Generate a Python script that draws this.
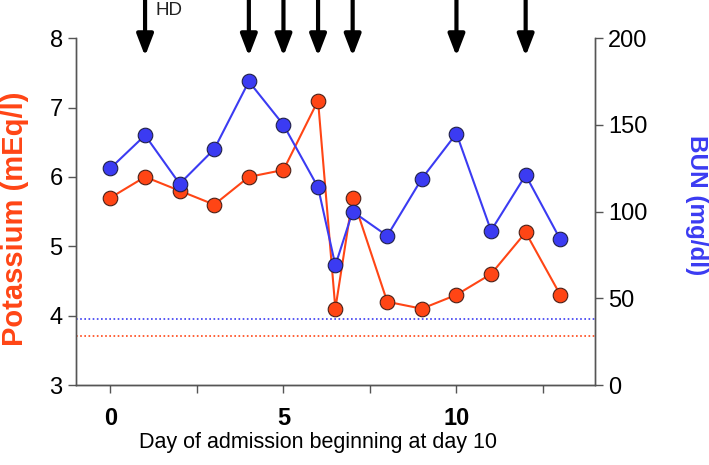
import numpy as np, matplotlib.pyplot as plt

plt.rcParams['font.family'] = ['Liberation Sans', 'DejaVu Sans']

days = [0, 1, 2, 3, 4, 5, 6, 6.5, 7, 8, 9, 10, 11, 12, 13]
potassium = [5.7, 6.0, 5.8, 5.6, 6.0, 6.1, 7.1, 4.1, 5.7, 4.2, 4.1, 4.3, 4.6, 5.2, 4.3]
bun = [125, 144, 116, 136, 175, 150, 114, 69, 100, 86, 119, 145, 89, 121, 84]
hd_days = [1, 4, 5, 6, 7, 10, 12]
k_ref = 3.7   # reference lines
bun_ref = 38

red = '#FF4515'
blue = '#3B3BF2'
gray = '#555555'

fig = plt.figure(figsize=(7.09, 4.65), dpi=100)
ax = fig.add_axes([0.107, 0.172, 0.732, 0.746])
ax2 = ax.twinx()

ax.plot(days, potassium, color=red, lw=1.5, marker='o', ms=10.5,
        mfc=red, mec='#4a2018', mew=0.8, zorder=3)
ax.axhline(k_ref, color=red, ls=(0, (1, 1.5)), lw=1.2)
ax2.plot(days, bun, color=blue, lw=1.5, marker='o', ms=10.5,
         mfc=blue, mec='#202048', mew=0.8, zorder=3)
ax2.axhline(bun_ref, color=blue, ls=(0, (1, 1.5)), lw=1.2)

ax.set_xlim(-1, 14)
ax.set_ylim(3, 8)
ax2.set_ylim(0, 200)
ax.set_xticks([0, 5, 10])
ax.set_xticks([2.5, 7.5, 12.5], minor=True)
ax.set_yticks(range(3, 9))
ax2.set_yticks(range(0, 201, 50))

for a in (ax, ax2):
    a.spines['top'].set_visible(False)
    for s in a.spines.values():
        s.set_color(gray)
        s.set_linewidth(1.0)
    a.tick_params(colors=gray, labelcolor='black', length=6, width=1.0,
                  labelsize=17, which='both')
ax.spines['bottom'].set_color('#333333')
for lbl in ax.get_xticklabels():
    lbl.set_fontweight('bold')
ax.tick_params(axis='x', pad=10)

ax.set_xlabel('Day of admission beginning at day 10', fontsize=15.5)
ax.xaxis.set_label_coords(0.466, -0.135)
ax.set_ylabel('Potassium (mEq/l)', color=red, fontsize=21, fontweight='bold',
              va='center')
ax.yaxis.set_label_coords(-0.118, 0.48)
ax2.set_ylabel('BUN (mg/dl)', color=blue, fontsize=17.5, fontweight='bold',
               rotation=-90, va='center')
ax2.yaxis.set_label_coords(1.195, 0.52)

# HD arrows above the plot
for d in hd_days:
    ax.annotate('', xy=(d, 7.74), xytext=(d, 8.57), annotation_clip=False,
                arrowprops=dict(arrowstyle='-|>,head_length=1.3,head_width=0.5',
                                color='black', lw=3, shrinkA=0, shrinkB=0))
ax.text(hd_days[0] + 0.3, 8.4, 'HD', fontsize=13.5, color='#222222',
        va='center', ha='left', clip_on=False)

fig.savefig('out.png', dpi=100)
